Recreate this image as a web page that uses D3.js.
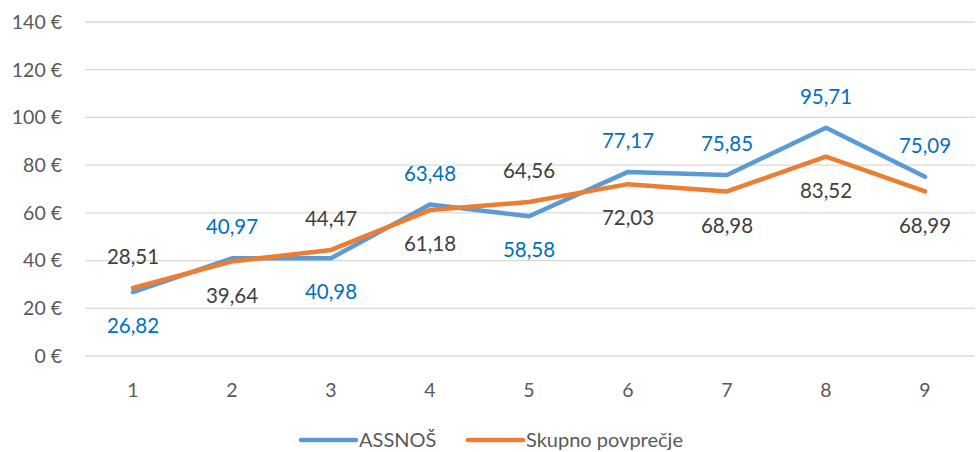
<!DOCTYPE html>
<html lang="sl">
<head>
<meta charset="UTF-8">
<script src="https://d3js.org/d3.v7.min.js"></script>
<style>
  body { margin: 0; background: #fff; }
  svg text { font-family: Lato, "Open Sans", sans-serif; }
</style>
</head>
<body>
<div id="chart"></div>
<script>
const categories = ["1", "2", "3", "4", "5", "6", "7", "8", "9"];
const assnos = [26.82, 40.97, 40.98, 63.48, 58.58, 77.17, 75.85, 95.71, 75.09];
const skupno = [28.51, 39.64, 44.47, 61.18, 64.56, 72.03, 68.98, 83.52, 68.99];
// label side per point: -1 above, 1 below
const assnosSide = [1, -1, 1, -1, 1, -1, -1, -1, -1];
const skupnoSide = [-1, 1, -1, 1, -1, 1, 1, 1, 1];
const yTicks = [0, 20, 40, 60, 80, 100, 120, 140];

const W = 980, H = 452;
const svg = d3.select("#chart").append("svg").attr("width", W).attr("height", H);

const x = d3.scalePoint().domain(categories).range([133, 925]);
const y = d3.scaleLinear().domain([0, 140]).range([356, 22]);

// gridlines
svg.append("g").selectAll("line").data(yTicks).join("line")
  .attr("x1", 85).attr("x2", 975)
  .attr("y1", d => y(d)).attr("y2", d => y(d))
  .attr("stroke", "#d9d9d9").attr("stroke-width", 1.3);

// y labels
svg.append("g").selectAll("text").data(yTicks).join("text")
  .attr("x", 62).attr("y", d => y(d)).attr("dy", "0.35em")
  .attr("text-anchor", "end").attr("fill", "#595959").attr("font-size", 19.5)
  .text(d => d + " €");

// x labels
svg.append("g").selectAll("text").data(categories).join("text")
  .attr("x", d => x(d)).attr("y", 390).attr("dy", "0.35em")
  .attr("text-anchor", "middle").attr("fill", "#595959").attr("font-size", 19.5)
  .text(d => d);

const series = [
  { name: "ASSNOŠ", values: assnos, side: assnosSide, color: "#5b9bd5", labelColor: "#0070c0" },
  { name: "Skupno povprečje", values: skupno, side: skupnoSide, color: "#ed7d31", labelColor: "#404040" }
];

const line = d3.line().x((d, i) => x(categories[i])).y(d => y(d));

series.forEach(s => {
  svg.append("path").datum(s.values)
    .attr("d", line).attr("fill", "none")
    .attr("stroke", s.color).attr("stroke-width", 4.5)
    .attr("stroke-linejoin", "round").attr("stroke-linecap", "round");
});

const fmt = v => v.toFixed(2).replace(".", ",");
series.forEach(s => {
  svg.append("g").selectAll("text").data(s.values).join("text")
    .attr("x", (d, i) => x(categories[i]))
    .attr("y", (d, i) => y(d) + (s.side[i] < 0 ? -31 : 34))
    .attr("dy", "0.35em").attr("text-anchor", "middle")
    .attr("fill", s.labelColor).attr("font-size", 20.5)
    .text(d => fmt(d));
});

// legend
const legendX = [301, 468];
series.forEach((s, i) => {
  const g = svg.append("g").attr("transform", `translate(${legendX[i]},440)`);
  g.append("line").attr("x1", 0).attr("x2", 55).attr("y1", 0).attr("y2", 0)
    .attr("stroke", s.color).attr("stroke-width", 4.5).attr("stroke-linecap", "round");
  g.append("text").attr("x", 58).attr("y", 0).attr("dy", "0.35em")
    .attr("fill", "#595959").attr("font-size", 20).text(s.name);
});
</script>
</body>
</html>
